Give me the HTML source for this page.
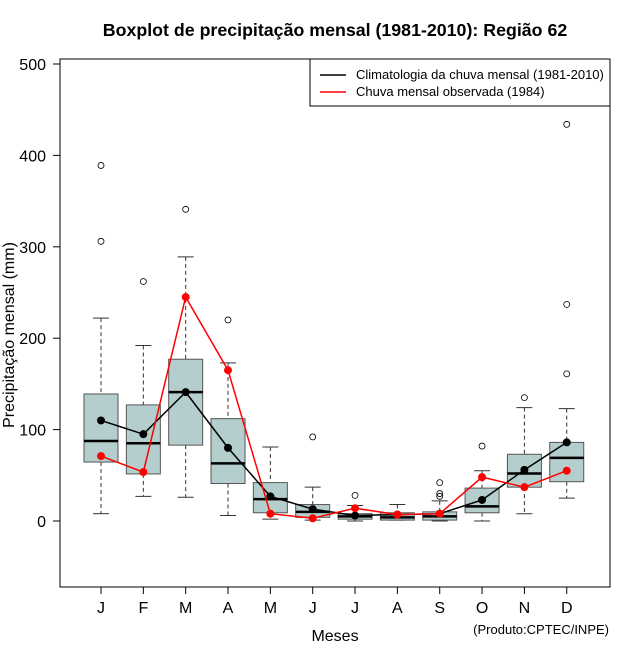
<!DOCTYPE html>
<html><head><meta charset="utf-8"><style>body{margin:0;background:#fff}svg{display:block;font-family:"Liberation Sans",Arial,sans-serif}</style></head>
<body>
<svg id="c" width="640" height="660"></svg>
<script>
const months=["J","F","M","A","M","J","J","A","S","O","N","D"];
const whiskLow=[8,27,26,6,2,1,0,1,0,0,8,25];
const q1=[64.5,51.5,83,41,9,4,2,1,1,9,37,43];
const med=[87.5,85,141,63,24,10,5,4,5,16,52,69];
const q3=[139,127,177,112,42,18,8,9,10,36,73,86];
const whiskHigh=[222,192,289,173,81,37,17,18,22,55,124,123];
const outliers=[[389,306],[262],[341],[220],[],[92],[28],[],[42,30,27],[82],[135],[434,237,161]];
const climMean=[110,95,141,80,27,13,6,7,8,23,56,86];
const obs1984=[71,53.5,245,165,8,3,14,7,8,48,37,55];
const yTicks=[0,100,200,300,400,500];

const svg=document.getElementById('c');const NS='http://www.w3.org/2000/svg';
function el(t,a,txt){const e=document.createElementNS(NS,t);for(const k in a)e.setAttribute(k,a[k]);if(txt!==undefined)e.textContent=txt;svg.appendChild(e);return e;}
const X=i=>101+i*42.34;
const Y=v=>521-v*0.914;
const bw=34;

let e;
e=el('rect',{x:60,y:59,width:550,height:528,fill:'none',stroke:'#000','stroke-width':1});

e=el('text',{x:335,y:36,'text-anchor':'middle','font-size':17.8,'font-weight':'bold'},'Boxplot de precipitação mensal (1981-2010): Região 62');

yTicks.forEach(v=>{
  e=el('line',{x1:53,x2:60,y1:Y(v),y2:Y(v),stroke:'#000'});
  
  e=el('text',{x:46,y:Y(v)+6,'text-anchor':'end','font-size':16},v);
  
});
e=el('text',{x:0,y:0,'text-anchor':'middle','font-size':16,transform:'translate(14,335) rotate(-90)'},'Precipitação mensal (mm)');

e=el('text',{x:335,y:641,'text-anchor':'middle','font-size':16},'Meses');

e=el('text',{x:609,y:634,'text-anchor':'end','font-size':13},'(Produto:CPTEC/INPE)');


months.forEach((m,i)=>{
  const x=X(i);
  e=el('line',{x1:x,x2:x,y1:587,y2:594,stroke:'#000'});
  
  e=el('text',{x:x,y:613,'text-anchor':'middle','font-size':16},m);
  
  e=el('line',{x1:x,x2:x,y1:Y(whiskHigh[i]),y2:Y(q3[i]),stroke:'#333','stroke-dasharray':'4,3'});
  
  e=el('line',{x1:x,x2:x,y1:Y(q1[i]),y2:Y(whiskLow[i]),stroke:'#333','stroke-dasharray':'4,3'});
  
  e=el('line',{x1:x-8,x2:x+8,y1:Y(whiskHigh[i]),y2:Y(whiskHigh[i]),stroke:'#333'});
  
  e=el('line',{x1:x-8,x2:x+8,y1:Y(whiskLow[i]),y2:Y(whiskLow[i]),stroke:'#333'});
  
  e=el('rect',{x:x-bw/2,y:Y(q3[i]),width:bw,height:Math.max(1,Y(q1[i])-Y(q3[i])),fill:'#b4cdcd',stroke:'#555'});
  
  e=el('line',{x1:x-bw/2,x2:x+bw/2,y1:Y(med[i]),y2:Y(med[i]),stroke:'#000','stroke-width':2.5});
  
  outliers[i].forEach(o=>{
    e=el('circle',{cx:x,cy:Y(o),r:3,fill:'none',stroke:'#000','stroke-width':0.8});
    
  });
});
function series(vals,col,name){
  e=el('polyline',{points:vals.map((v,i)=>X(i)+','+Y(v)).join(' '),fill:'none',stroke:col,'stroke-width':1.5});
  
  vals.forEach((v,i)=>{
    e=el('circle',{cx:X(i),cy:Y(v),r:4,fill:col});
    
  });
}
series(climMean,'#000','climatology');
series(obs1984,'#f00','observed-1984');

e=el('rect',{x:310,y:59,width:300,height:47,fill:'#fff',stroke:'#000'});

e=el('line',{x1:320,x2:346,y1:75,y2:75,stroke:'#000','stroke-width':1.5});

e=el('text',{x:356,y:79,'font-size':13},'Climatologia da chuva mensal (1981-2010)');

e=el('line',{x1:320,x2:346,y1:92,y2:92,stroke:'#f00','stroke-width':1.5});

e=el('text',{x:356,y:96,'font-size':13},'Chuva mensal observada (1984)');

</script>
</body></html>
